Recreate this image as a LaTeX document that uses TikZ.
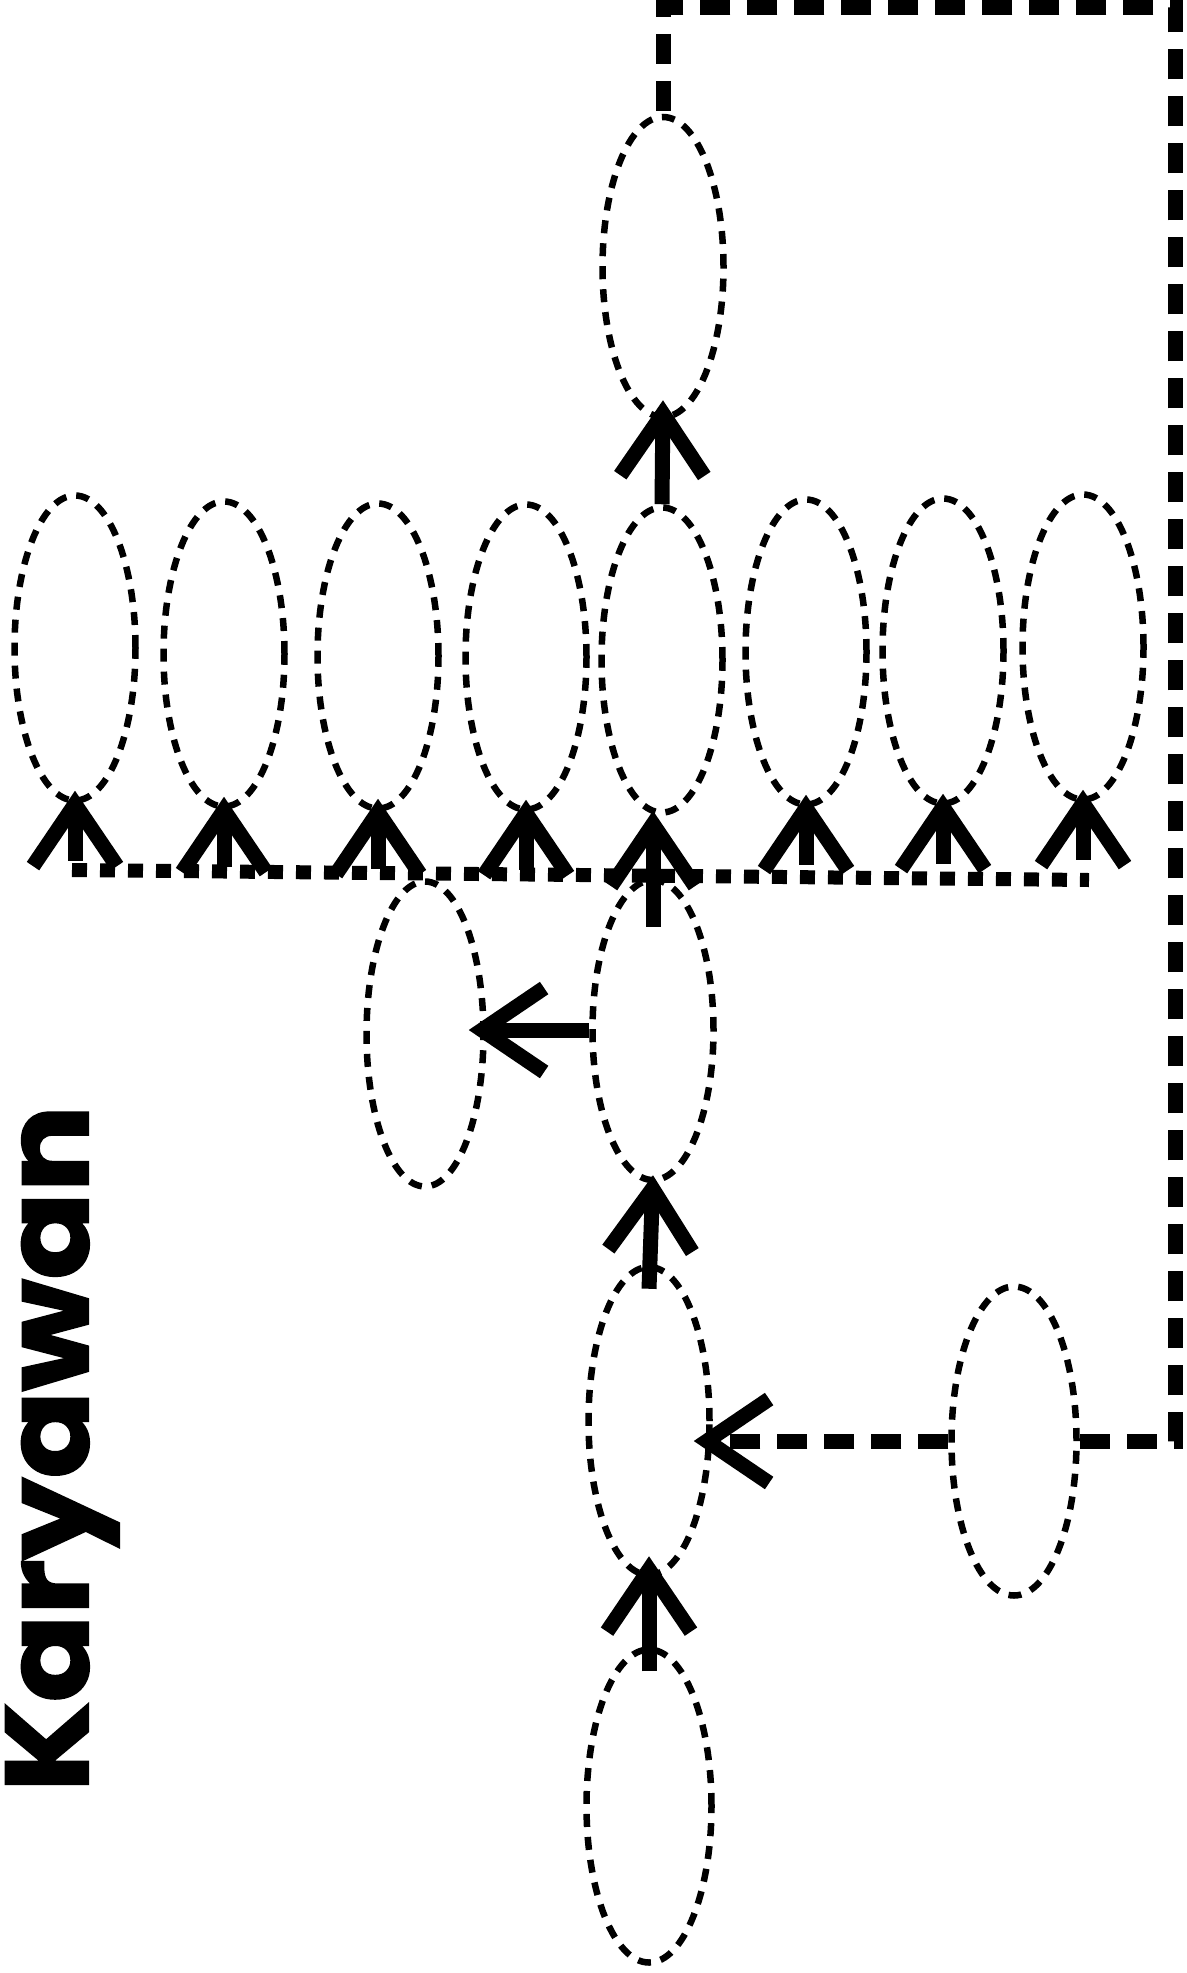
\documentclass[tikz,border=0pt]{standalone}
\usepackage{fontspec}
\newfontfamily\labelfont{Poppins}[BoldFeatures={FakeBold=2}]
\usetikzlibrary{arrows.meta,shapes.geometric}
\begin{document}
\begin{tikzpicture}[x=1pt,y=-1pt,
  unit/.style={ellipse, draw, line width=6.5pt, dash pattern=on 13pt off 10pt,
    minimum width=121pt, minimum height=305pt, inner sep=0pt},
  flow/.style={line width=15pt, -{Straight Barb[length=62pt,width=84pt,sharp]}},
  bus/.style={line width=14pt, dash pattern=on 15pt off 13pt},
  loopline/.style={line width=15pt, dash pattern=on 30pt off 17pt},
]
\useasboundingbox (0,0) rectangle (1186,1973);

% top unit
\node[unit, minimum height=300pt] (T) at (663,267) {};

% row of eight units
\node[unit] (e1) at (75,648) {};
\node[unit] (e2) at (224,654) {};
\node[unit] (e3) at (378,656) {};
\node[unit] (e4) at (526,657) {};
\node[unit] (e5) at (662,660) {};
\node[unit] (e6) at (806,652) {};
\node[unit] (e7) at (943,651) {};
\node[unit] (e8) at (1083,647) {};

% middle and lower units
\node[unit, minimum width=117pt] (m1) at (425,1034) {};
\node[unit, minimum height=300pt] (m2) at (653,1030) {};
\node[unit, minimum height=308pt] (b) at (649,1421) {};
\node[unit, minimum width=125pt, minimum height=309pt] (R) at (1014,1441) {};
\node[unit, minimum width=125pt, minimum height=313pt] (c) at (649,1806) {};

% horizontal bus under the row
\coordinate (busL) at (72,870);
\coordinate (busR) at (1089,880);
\draw[bus] (busL) -- (busR);

% arrows from the bus into the row
\foreach \k in {1,2,3,4,6,7,8}
  \draw[flow] ([yshift=-57pt]e\k.south) -- ([yshift=13pt]e\k.south);

% main chain
\draw[flow] ([yshift=-25pt]c.north) -- ([yshift=22pt]b.south);
\draw[flow] ([yshift=-25pt]b.north) -- ([yshift=8pt]m2.south);
\draw[flow] ([yshift=-50pt]m2.north) -- ([yshift=5pt]e5.south -| m2.north);
\draw[flow] (m2.west) -- ([xshift=-18pt]m1.east |- m2.west);
\draw[flow] (e5.north) -- ([yshift=20pt]T.south);

% feedback loop
\coordinate (cornerTR) at (1175,7);
\draw[loopline] (R.east) -| (cornerTR) -| (T.north);
\draw[loopline, -{Straight Barb[length=62pt,width=84pt,sharp,line width=15pt]}]
  (R.west) -- ([xshift=-19pt]b.east |- R.west);

% vertical label
\node[rotate=90, anchor=base west, inner sep=0pt,
  font=\labelfont\bfseries\fontsize{117}{117}\selectfont] (title) at (88,1792)
  {\scalebox{1.1}[1]{Karyawan}};
\end{tikzpicture}
\end{document}
